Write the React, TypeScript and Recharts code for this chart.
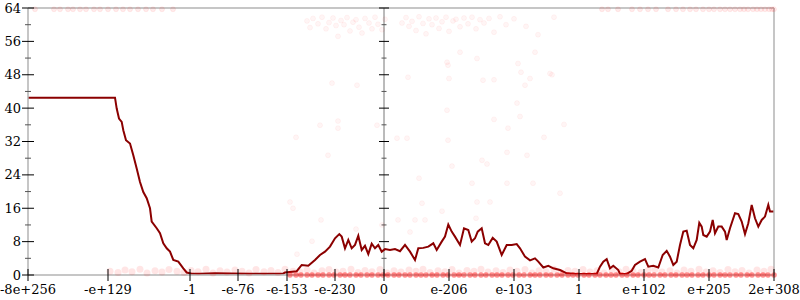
import { ComposedChart, Line, Scatter, XAxis, YAxis, ReferenceLine } from "recharts";

// x is the position along the ordinal float axis, y is bits of error
const xTickPos = [0, 80, 162, 210, 259, 307, 356, 421, 486, 551, 616, 681, 746];
const xTickLabels = [
  "-8e+256", "-e+129", "-1", "-e-76", "-e-153", "-e-230", "0",
  "e-206", "e-103", "1", "e+102", "e+205", "2e+308",
];
const yTicks = [0, 4, 8, 12, 16, 20, 24, 28, 32, 36, 40, 44, 48, 52, 56, 60, 64];

const avgX = [
  0, 87, 88.7, 91, 93.7, 95.3, 98, 102, 105.3, 108.7, 112, 115.3, 118.7, 122, 123.7, 128.7,
  132, 135.3, 138.7, 142, 145.3, 150.3, 155.3, 158.7, 163.7, 172, 187, 202, 222, 242, 255,
  257, 268.7, 273.7, 280.3, 287, 292, 297, 302, 307, 311.3, 313.7, 317, 320.3, 323.7, 327,
  330.3, 333.7, 337, 340.3, 343.7, 347, 350.3, 353.7, 357, 362, 367, 372, 377, 382, 387,
  390.3, 395.3, 400.3, 405.3, 408.7, 413.7, 417, 420.3, 423.7, 427, 432, 436, 440.3, 443.7,
  447, 449.7, 453.7, 457, 460.3, 464.7, 468.7, 473.7, 478.7, 483.7, 488.7, 492, 497, 502,
  507, 510.3, 515.3, 520.3, 525.3, 532, 538.7, 548.7, 568.7, 572, 575.3, 578.7, 582, 585.3,
  590.3, 592, 598.7, 603.7, 607, 612, 617, 620.3, 625.3, 630.3, 634.7, 638.7, 642, 645.3,
  648.7, 652, 655.3, 658.7, 662, 665.3, 668.7, 671.3, 673.7, 675.3, 678.7, 682, 684.7, 687,
  690.3, 693.7, 697, 698.7, 702, 707, 710.3, 713.7, 717, 720.3, 723.7, 727, 730.3, 733.7,
  737, 740.3, 742, 746,
];
const avgErr = [
  42.5, 42.5, 39.9, 37.5, 36.7, 34.7, 32.3, 31.5, 28.7, 25.5, 22.3, 19.9, 18.4, 16.0, 12.8, 11.2,
  10.0, 7.6, 6.4, 5.6, 3.6, 3.2, 1.6, 0.6, 0.3, 0.3, 0.4, 0.35, 0.3, 0.3, 0.35,
  0.6, 0.9, 2.4, 2.2, 3.6, 4.8, 5.6, 6.8, 8.8, 9.8, 9.2, 6.4, 8.4, 6.4, 7.2,
  9.4, 6.0, 7.0, 5.0, 7.5, 6.4, 7.2, 5.6, 6.2, 6.0, 6.2, 5.7, 7.2, 5.6, 3.6,
  6.4, 6.5, 6.8, 7.6, 6.0, 8.0, 9.2, 12.1, 10.4, 9.2, 7.2, 11.2, 10.8, 8.0,
  8.8, 10.4, 11.2, 7.6, 7.2, 8.9, 8.0, 4.8, 7.2, 7.2, 7.4, 6.4, 4.4, 3.5,
  4.0, 3.2, 1.8, 2.2, 1.6, 1.2, 0.4, 0.25, 0.25, 2.0, 3.2, 3.8, 1.6, 2.2,
  1.2, 0.25, 0.25, 1.0, 2.4, 3.2, 3.8, 2.0, 2.2, 1.8, 4.8, 5.8, 4.4, 2.4,
  3.2, 7.2, 10.4, 10.6, 7.2, 6.4, 8.4, 12.5, 11.6, 9.6, 9.2, 10.4, 13.2, 10.0,
  11.6, 11.6, 10.4, 8.4, 11.2, 14.8, 14.6, 12.8, 9.8, 12.4, 16.8, 13.6, 11.6, 13.2,
  14.0, 16.8, 15.2, 15.2,
];

// sampled points with exactly zero error
const zeroX = [
  262, 268, 273, 279, 284, 290, 295, 301, 306, 312, 317, 322, 328, 333, 339, 344, 350, 355,
  360, 366, 371, 377, 382, 388, 393, 398, 404, 409, 415, 420, 426, 431, 436, 442, 447, 453,
  458, 464, 469, 474, 480, 485, 491, 496, 502, 507, 512, 518, 523, 529, 534, 540, 545, 550,
  556, 561, 567, 572, 578, 583, 588, 594, 599, 605, 610, 616, 621, 626, 632, 637, 643, 648,
  654, 659, 664, 670, 675, 681, 686, 692, 697, 702, 708, 713, 719, 724, 730, 735, 740, 746,
];

// sampled points with under 1.5 bits of error
const lowBand: [number, number][] = [
  [82, 0.9], [90, 0.6], [97, 1.2], [104, 0.8], [112, 1.4], [119, 0.5], [127, 1.0], [134, 0.7],
  [141, 1.3], [149, 0.9], [156, 0.6], [163, 1.1], [170, 0.8], [178, 1.4], [185, 0.5], [192, 1.0],
  [199, 0.7], [207, 1.2], [214, 0.9], [221, 0.5], [228, 1.3], [236, 0.8], [243, 1.1], [250, 0.6],
  [257, 1.4], [265, 0.9], [272, 0.7], [279, 1.2], [286, 0.5], [294, 1.0], [301, 1.3], [308, 0.7],
  [315, 0.9], [323, 1.4], [330, 0.6], [337, 1.1], [344, 0.8], [352, 1.3], [359, 0.5], [366, 1.0],
  [373, 0.7], [381, 1.2], [388, 0.9], [395, 1.4], [402, 0.6], [410, 1.0], [417, 0.8], [424, 1.3],
  [431, 0.5], [439, 1.1], [446, 0.9], [453, 1.4], [460, 0.7], [468, 1.0], [475, 0.6], [482, 1.2],
  [489, 0.9], [497, 1.3], [504, 0.5], [511, 1.0], [518, 0.8], [526, 1.4], [533, 0.6], [540, 1.1],
  [547, 0.9], [555, 1.3], [562, 0.7], [569, 1.0], [576, 0.5], [584, 1.2], [591, 0.8], [598, 1.4],
  [605, 0.9], [613, 0.6], [620, 1.1], [627, 1.3], [634, 0.7], [642, 1.0], [649, 0.5], [656, 1.2],
  [663, 0.9], [671, 1.4], [678, 0.7], [685, 1.0], [692, 0.6], [700, 1.3], [707, 0.8], [714, 1.1],
  [721, 0.5], [729, 1.2], [736, 0.9], [743, 1.4],
];

// sampled points at the 64-bit ceiling
const maxX = [
  7, 26, 32, 40, 45, 52, 58, 66, 72, 80, 88, 95, 102, 110, 118, 125, 134, 145,
  574, 580, 590, 604, 612, 620, 628, 640, 648, 655, 662, 668, 675, 681, 686, 692, 697, 702,
  707, 712, 716, 720, 725, 729, 733, 737, 741, 744, 746,
];

const highCloud: [number, number][] = [
  [279, 60.9], [282, 59.3], [285, 61.5], [290, 60.2], [294, 61.8], [298, 59.0], [301, 60.5],
  [305, 61.6], [308, 59.8], [310, 57.2], [313, 61.0], [316, 60.0], [319, 61.7], [322, 58.5],
  [325, 60.6], [328, 61.2], [331, 59.4], [334, 58.0], [337, 61.5], [341, 60.4], [344, 59.0],
  [347, 61.8], [350, 60.1], [354, 58.8], [357, 61.3], [374, 60.4], [378, 61.7], [381, 59.6],
  [384, 60.8], [388, 58.6], [391, 61.9], [395, 60.3], [398, 57.8], [401, 61.4], [404, 60.0],
  [408, 61.6], [411, 59.1], [414, 60.7], [418, 61.8], [421, 58.4], [425, 60.9], [428, 61.3],
  [432, 59.5], [436, 61.6], [440, 60.2], [444, 61.8], [448, 59.0], [452, 61.2], [456, 60.4],
  [461, 61.5], [466, 58.2], [472, 61.9], [478, 60.0], [486, 61.4], [498, 59.6], [510, 57.6],
  [526, 61.8],
];

const strays: [number, number][] = [
  [304, 46], [329, 45.5], [292, 35.9], [310, 36.9], [310, 35.2], [268, 33], [349, 35.9], [369, 32.8],
  [432, 53.4], [507, 53.4], [419, 51], [420, 50.3], [449, 51.9], [490, 50.7], [380, 47.4], [421, 47.1],
  [455, 46.7], [466, 46.8], [493, 48.6], [502, 47.1], [522, 48.3], [524, 48], [497, 45.5], [419, 39.5],
  [489, 41.2], [492, 38], [466, 37.3], [480, 35.2], [536, 36.1], [379, 32.8], [420, 32.3], [516, 33],
  [300, 28.7], [262, 17.5], [265, 16], [293, 13.2], [328, 11], [370, 13.2], [284, 8.1], [269, 5],
  [354, 12], [479, 29.4], [499, 28.7], [454, 27.5], [459, 26.6], [424, 26.1], [391, 23.2], [444, 22],
  [479, 22], [505, 22], [532, 19.6], [449, 17.5], [462, 17.5], [394, 17.2], [414, 15.3], [387, 13.2],
  [397, 13.2], [448, 13.6], [382, 10.3],
];

const avgData = avgX.map((x, i) => ({ x, y: avgErr[i] }));
const toPts = (pts: [number, number][]) => pts.map(([x, y]) => ({ x, y }));
const zeroData = zeroX.map((x) => ({ x, y: 0 }));
const maxData = maxX.map((x) => ({ x, y: 63.7 }));
const lowData = toPts(lowBand);
const faintData = [...toPts(highCloud), ...toPts(strays)];

const FONT = "DejaVu Serif";
const GREY = "#b3b3b3";

const faintDot = (p: any) => (
  <circle cx={p.cx} cy={p.cy} r={2.5} fill="#ff0000" fillOpacity={0.04} stroke="#ff0000" strokeOpacity={0.04} />
);
const maxDot = (p: any) => (
  <circle cx={p.cx} cy={p.cy} r={2.5} fill="#ff0000" fillOpacity={0.08} stroke="#ff0000" strokeOpacity={0.06} />
);
const lowDot = (p: any) => (
  <circle cx={p.cx} cy={p.cy} r={3.5} fill="#ff0000" fillOpacity={0.1} stroke="none" />
);
const zeroDot = (p: any) => (
  <circle cx={p.cx} cy={p.cy} r={2.8} fill="#ff0000" fillOpacity={0.45} stroke="none" />
);

const LeftTick = ({ x, y, payload }: any) => {
  const major = payload.value % 8 === 0;
  const h = major ? 6 : 3;
  return (
    <g>
      <line x1={x - h} x2={x + h} y1={y} y2={y} stroke={major ? "#000" : "#555"} />
      {major && (
        <text x={x - 7} y={y} dy={4.5} textAnchor="end" fontFamily={FONT} fontSize={13} fill="#000">
          {payload.value}
        </text>
      )}
    </g>
  );
};

const RightTick = ({ x, y, payload }: any) => {
  const major = payload.value % 8 === 0;
  const h = major ? 6 : 3;
  return <line x1={x - h} x2={x + h} y1={y} y2={y} stroke={major ? "#000" : "#555"} />;
};

const BottomTick = ({ x, y, index }: any) => (
  <g>
    <line x1={x} x2={x} y1={y - 6} y2={y + 6} stroke="#000" />
    <text x={x} y={y + 19} textAnchor="middle" fontFamily={FONT} fontSize={13} fill="#000">
      {xTickLabels[index]}
    </text>
  </g>
);

// axis through zero, with ticks on both sides
const MidAxis = (p: any) => {
  const top = Math.min(p.y1, p.y2);
  const bottom = Math.max(p.y1, p.y2);
  return (
    <g>
      <line x1={p.x1} x2={p.x1} y1={top} y2={bottom} stroke="#777" />
      {yTicks.map((v) => {
        const yy = bottom - (v / 64) * (bottom - top);
        const h = v % 8 === 0 ? 5 : 2.5;
        return <line key={v} x1={p.x1 - h} x2={p.x1 + h} y1={yy} y2={yy} stroke={v % 8 === 0 ? "#000" : "#555"} />;
      })}
    </g>
  );
};

export default function App() {
  return (
    <div style={{ width: 800, height: 300 }}>
      <style>{"body{margin:0}"}</style>
      <ComposedChart width={800} height={300} margin={{ top: 8, right: 0, bottom: 0, left: 0 }}>
        <XAxis
          type="number"
          dataKey="x"
          domain={[0, 746]}
          ticks={xTickPos}
          interval={0}
          height={25}
          tickSize={0}
          tickMargin={0}
          axisLine={{ stroke: GREY, strokeWidth: 1.5 }}
          tick={BottomTick}
        />
        <YAxis
          type="number"
          domain={[0, 64]}
          ticks={yTicks}
          interval={0}
          width={28}
          tickSize={0}
          tickMargin={0}
          axisLine={{ stroke: GREY, strokeWidth: 1.5 }}
          tick={LeftTick}
        />
        <YAxis
          yAxisId="right"
          orientation="right"
          type="number"
          domain={[0, 64]}
          ticks={yTicks}
          interval={0}
          width={26}
          tickSize={0}
          tickMargin={0}
          axisLine={{ stroke: GREY, strokeWidth: 1.5 }}
          tick={RightTick}
        />
        <ReferenceLine y={64} stroke={GREY} strokeWidth={1.5} />
        <ReferenceLine x={356} shape={MidAxis} />
        <Scatter data={faintData} dataKey="y" shape={faintDot} isAnimationActive={false} />
        <Scatter data={maxData} dataKey="y" shape={maxDot} isAnimationActive={false} />
        <Scatter data={lowData} dataKey="y" shape={lowDot} isAnimationActive={false} />
        <Scatter data={zeroData} dataKey="y" shape={zeroDot} isAnimationActive={false} />
        <Line
          data={avgData}
          dataKey="y"
          type="linear"
          stroke="#8b0000"
          strokeWidth={2}
          dot={false}
          isAnimationActive={false}
        />
      </ComposedChart>
    </div>
  );
}
